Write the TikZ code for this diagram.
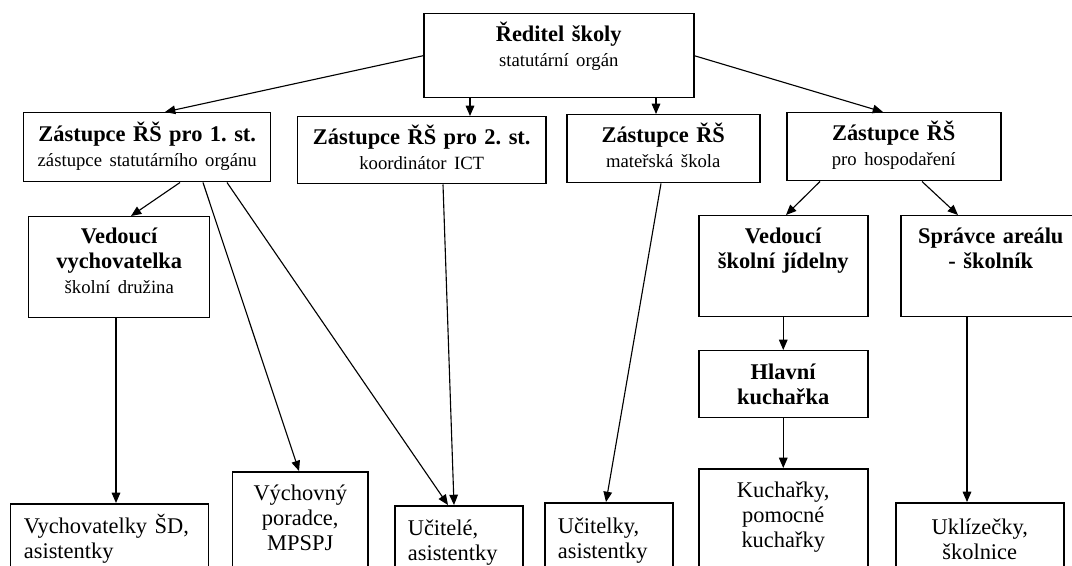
\documentclass[tikz,border=0pt]{standalone}
\usepackage{fontspec}
\setmainfont{Liberation Serif}
\usetikzlibrary{arrows.meta}
\frenchspacing

\newcommand\subtxt[1]{{\fontsize{10}{12}\selectfont #1}}

\tikzset{
  box/.style n args={3}{draw, line width=0.8pt, anchor=north west,
    inner ysep=0pt, inner xsep=7pt, align=center,
    text width=#1*0.535pt-14pt, text height=#3*0.535pt, text depth=(#2-#3)*0.535pt,
    font=\fontsize{12}{13.4}\selectfont},
  lbox/.style={align=left},
  arr/.style={-{Triangle[length=5.5pt,width=4.6pt]}, line width=0.6pt},
}

\begin{document}
\begin{tikzpicture}[x=0.535pt,y=-0.535pt]
        \useasboundingbox (0,0) rectangle (1072,566);
        \clip (0,0) rectangle (1072,566);

        \path
        (423,13) node[box={270}{84}{28}](red) {\textbf{Ředitel školy}\\ \subtxt{statutární orgán}}
        (23,112) node[box={247}{69}{29}](zs1) {\textbf{Zástupce ŘŠ pro 1. st.}\\ \subtxt{zástupce statutárního orgánu}}
        (297,116) node[box={248}{67}{28}](zs2) {\textbf{Zástupce ŘŠ pro 2. st.}\\ \subtxt{koordinátor ICT}}
        (566,114) node[box={193}{68}{28}](zms) {\textbf{Zástupce ŘŠ}\\ \subtxt{mateřská škola}}
        (786,112) node[box={214}{68}{28}](zhos) {\textbf{Zástupce ŘŠ}\\ \subtxt{pro hospodaření}}
        ;

        \path
        (28,216) node[box={181}{101}{27}](vvych) {\textbf{Vedoucí}\\ \textbf{vychovatelka}\\ \subtxt{školní družina}}
        (698,215) node[box={169}{101}{28}](vsj) {\textbf{Vedoucí}\\ \textbf{školní jídelny}}
        (900,215) node[box={180}{101}{28}](sprav) {\textbf{Správce areálu}\\ \textbf{- školník}}
        (698,350) node[box={169}{67}{29}](hkuch) {\textbf{Hlavní}\\ \textbf{kuchařka}}
        ;

        \path
        (10,503) node[box={198}{80}{30},lbox](vych) {Vychovatelky ŠD,\\ asistentky}
        (232,471) node[box={135}{110}{29}](vpor) {Výchovný\\ poradce,\\ MPSPJ}
        (394,505) node[box={128}{80}{30},lbox](ucit) {Učitelé,\\ asistentky}
        (544,502) node[box={128}{80}{31},lbox](ucky) {Učitelky,\\ asistentky}
        (698,468) node[box={169}{110}{29}](kuch) {Kuchařky,\\ pomocné\\ kuchařky}
        (895,502) node[box={168}{80}{32}](ukl) {Uklízečky,\\ školnice}
        ;

        \draw[arr] (red.west) -- ([shift={(142,0)}]zs1.north west);
        \draw[arr] ([shift={(47,0)}]red.south west) -- ([shift={(173,0)}]zs2.north west);
        \draw[arr] ([shift={(233,0)}]red.south west) -- ([shift={(90,0)}]zms.north west);
        \draw[arr] (red.east) -- ([shift={(97,0)}]zhos.north west);

        \draw[arr] ([shift={(157,0)}]zs1.south west) -- ([shift={(103,0)}]vvych.north west);
        \draw[arr] ([shift={(180,0)}]zs1.south west) -- ([shift={(67,0)}]vpor.north west);
        \draw[arr] ([shift={(204,0)}]zs1.south west) -- ([shift={(54,0)}]ucit.north west);
        \draw[arr] ([shift={(146,0)}]zs2.south west) -- ([shift={(60,0)}]ucit.north west);
        \draw[arr] ([shift={(95,0)}]zms.south west) -- ([shift={(62,0)}]ucky.north west);
        \draw[arr] ([shift={(34,0)}]zhos.south west) -- ([shift={(88,0)}]vsj.north west);
        \draw[arr] ([shift={(136,0)}]zhos.south west) -- ([shift={(58,0)}]sprav.north west);

        \draw[arr] ([shift={(88,0)}]vvych.south west) -- ([shift={(106,0)}]vych.north west);
        \draw[arr] (vsj) -- (hkuch);
        \draw[arr] (hkuch) -- (kuch);
        \draw[arr] ([shift={(67,0)}]sprav.south west) -- ([shift={(72,0)}]ukl.north west);
\end{tikzpicture}
\end{document}
